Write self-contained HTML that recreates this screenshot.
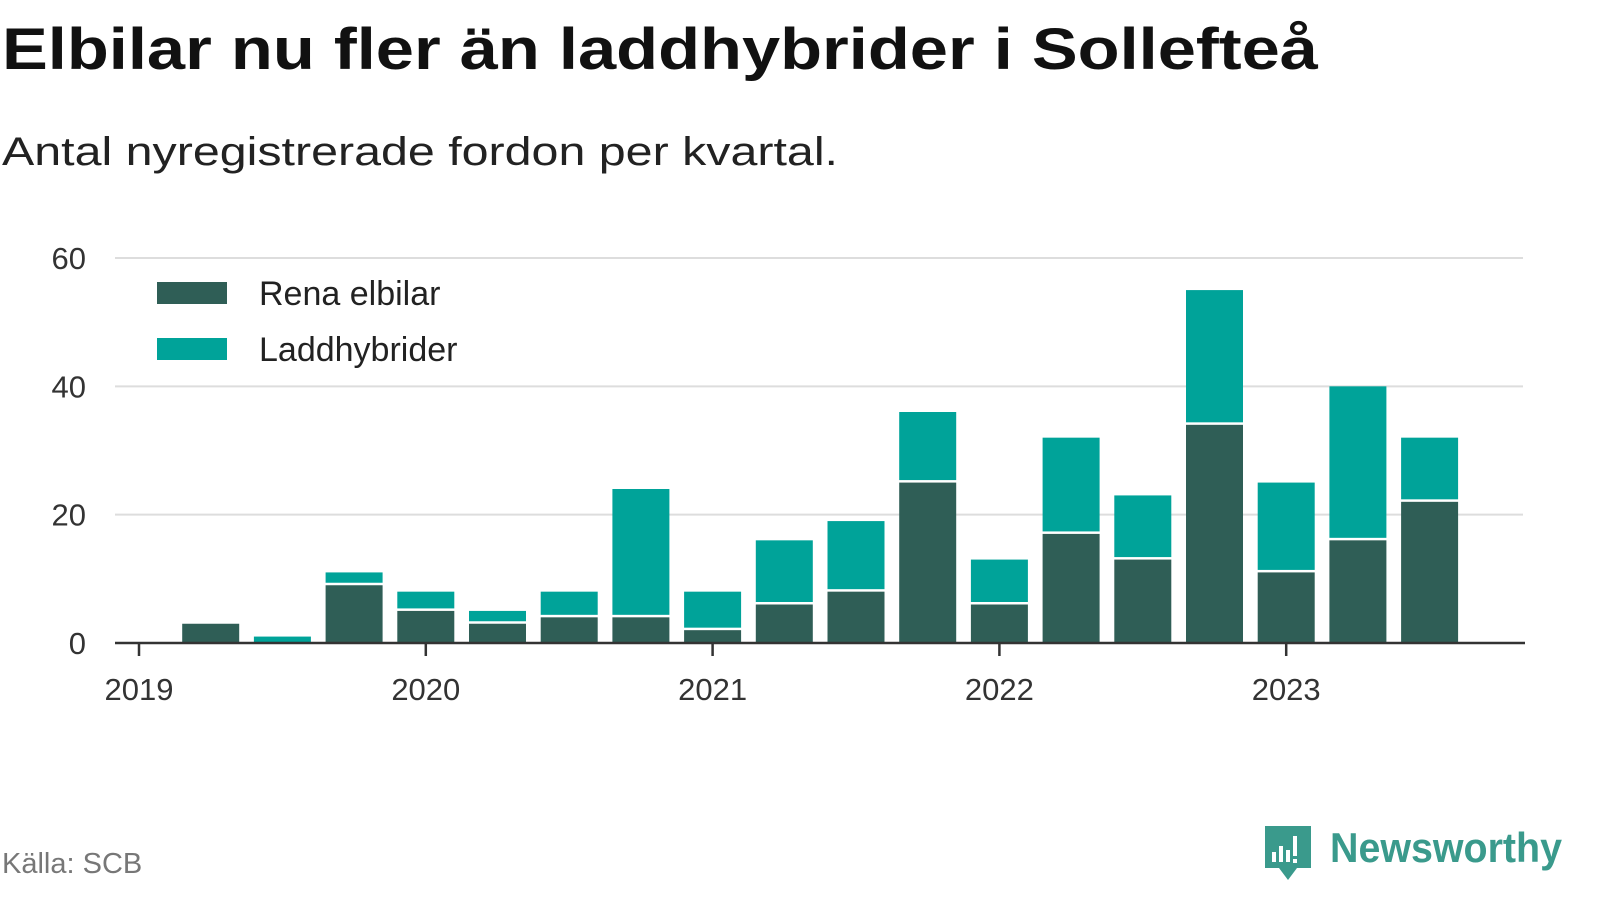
<!DOCTYPE html>
<html><head><meta charset="utf-8">
<style>
html,body{margin:0;padding:0;background:#fff;}
svg{display:block;font-family:"Liberation Sans",sans-serif;}
</style></head>
<body>
<svg id="chart" width="1600" height="900" viewBox="0 0 1600 900">
<text x="2" y="69" font-size="58" font-weight="bold" fill="#111" textLength="1316" lengthAdjust="spacingAndGlyphs">Elbilar nu fler än laddhybrider i Sollefteå</text>
<text x="2" y="165" font-size="40" fill="#222" textLength="836" lengthAdjust="spacingAndGlyphs">Antal nyregistrerade fordon per kvartal.</text>
<g id="grid"></g>
<g id="bars"></g>
<g id="axes"></g>
<g>
<rect x="145" y="272" width="355" height="110" fill="#fff"/>
<g>
<rect x="157" y="282" width="70" height="22" fill="#2f5e56"/>
<text x="259" y="305" font-size="34" fill="#222">Rena elbilar</text></g>
<g>
<rect x="157" y="338" width="70" height="22" fill="#00a399"/>
<text x="259" y="361" font-size="34" fill="#222">Laddhybrider</text></g>
</g>
<text x="2" y="873" font-size="29" fill="#777">Källa: SCB</text>
<g>
<path d="M1265 826 h46 v42 h-14 l-9 12 l-9 -12 h-14 z" fill="#3a9a8c"/>
<rect x="1272" y="852" width="4" height="10" fill="#fff"/>
<rect x="1279" y="846" width="4" height="16" fill="#fff"/>
<rect x="1286" y="850" width="4" height="12" fill="#fff"/>
<rect x="1293" y="836" width="4" height="20" fill="#fff"/>
<rect x="1293" y="859" width="4" height="4" fill="#fff"/>
<text x="1330" y="862" font-size="42" font-weight="bold" fill="#3a9a8c" textLength="232" lengthAdjust="spacingAndGlyphs">Newsworthy</text>
</g>
</svg>
<script>
const quarters = ["2019Q1","2019Q2","2019Q3","2019Q4","2020Q1","2020Q2","2020Q3","2020Q4","2021Q1","2021Q2","2021Q3","2021Q4","2022Q1","2022Q2","2022Q3","2022Q4","2023Q1","2023Q2","2023Q3"];
const elbilar = [0,3,0,9,5,3,4,4,2,6,8,25,6,17,13,34,11,16,22];
const laddhybrider = [0,0,1,2,3,2,4,20,6,10,11,11,7,15,10,21,14,24,10];
const yTicks = [0,20,40,60];
const xTickLabels = ["2019","2020","2021","2022","2023"];

const NS="http://www.w3.org/2000/svg";
const x0=139, qW=71.7, y0=643, yScale=(643-258)/60, barW=57;
const xPos = i => x0 + i*qW;
const yPos = v => y0 - v*yScale;
function mk(tag, attrs, parent){const e=document.createElementNS(NS,tag);for(const k in attrs)e.setAttribute(k,attrs[k]);parent.appendChild(e);return e;}
const grid=document.getElementById('grid'), bars=document.getElementById('bars'), axes=document.getElementById('axes');
yTicks.forEach(t=>{
  if(t>0){const l=mk('line',{x1:115,x2:1523,y1:yPos(t),y2:yPos(t),stroke:'#dddddd','stroke-width':2},grid);
  
  }
  const tx=mk('text',{x:86,y:yPos(t)+11,'font-size':31,'text-anchor':'end',fill:'#333'},axes);
  tx.textContent=t;
  
  
});
quarters.forEach((q,i)=>{
  const cx=xPos(i), e=elbilar[i], h=laddhybrider[i];
  if(e>0){const r=mk('rect',{x:cx-barW/2,y:yPos(e),width:barW,height:yPos(0)-yPos(e),fill:'#2f5e56'},bars);
  
  }
  if(h>0){const top=yPos(e+h), bot=yPos(e)-(e>0?2.5:0);
  const r=mk('rect',{x:cx-barW/2,y:top,width:barW,height:Math.max(0,bot-top),fill:'#00a399'},bars);
  
  }
});
const ax=mk('line',{x1:115,x2:1525,y1:y0,y2:y0,stroke:'#333','stroke-width':2.5},axes);


xTickLabels.forEach((lab,k)=>{
  const x=xPos(k*4);
  const tk=mk('line',{x1:x,x2:x,y1:y0,y2:y0+13,stroke:'#333','stroke-width':2.5},axes);
  
  
  const t=mk('text',{x:x,y:700,'font-size':31,'text-anchor':'middle',fill:'#333'},axes);
  t.textContent=lab;
  
  
});
</script>
</body></html>
